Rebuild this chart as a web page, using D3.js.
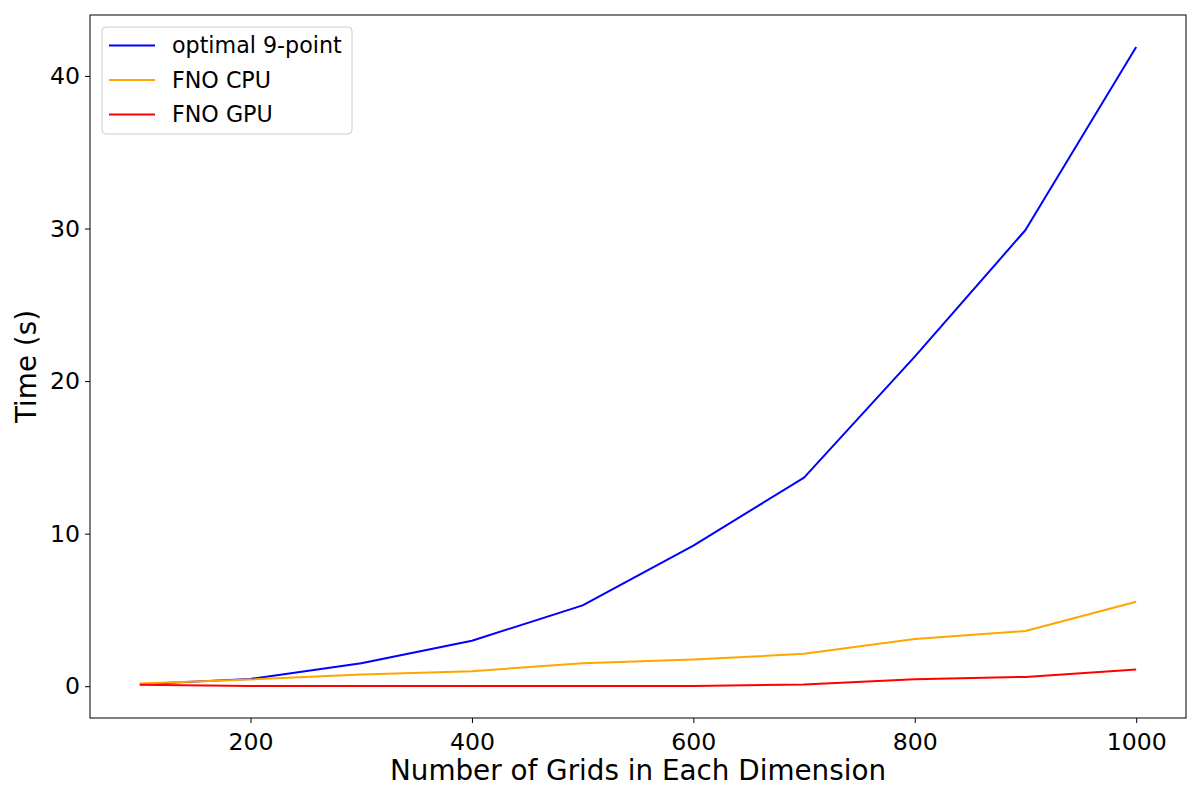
<!DOCTYPE html>
<html><head><meta charset="utf-8">
<script src="https://cdn.jsdelivr.net/npm/d3@7"></script>
<style>body{margin:0;background:#fff}svg{display:block}text{font-family:"DejaVu Sans",sans-serif;fill:#000}</style>
</head><body><svg id="c" width="1200" height="800"></svg>
<script>
const grids = [100,200,300,400,500,600,700,800,900,1000];
const optimal9 = [0.13,0.48,1.5,2.98,5.3,9.22,13.67,21.6,29.9,41.9];
const fnoCPU = [0.18,0.44,0.77,0.98,1.51,1.75,2.12,3.09,3.62,5.53];
const fnoGPU = [0.1,0.01,0.01,0.01,0.02,0.02,0.11,0.46,0.61,1.1];
const seriesNames = ["optimal 9-point","FNO CPU","FNO GPU"];
const seriesColors = ["#0000ff","#ffa500","#ff0000"];
const xTicks = [200,400,600,800,1000];
const yTicks = [0,10,20,30,40];

const svg = d3.select("#c");
const L=90,R=1186,T=15,B=718;
const allY = optimal9.concat(fnoCPU,fnoGPU);
const ymin=d3.min(allY), ymax=d3.max(allY), ypad=(ymax-ymin)*0.05;
const x = d3.scaleLinear().domain([55,1045]).range([L,R]);
const y = d3.scaleLinear().domain([ymin-ypad, ymax+ypad]).range([B,T]);

const xa = svg.append("g").attr("transform",`translate(0,${B})`)
  .call(d3.axisBottom(x).tickValues(xTicks).tickSize(5).tickPadding(5).tickFormat(d3.format("d")));
const ya = svg.append("g").attr("transform",`translate(${L},0)`)
  .call(d3.axisLeft(y).tickValues(yTicks).tickSize(5).tickPadding(5).tickFormat(d3.format("d")));
[xa,ya].forEach(a=>{a.select(".domain").remove();a.selectAll("line").attr("stroke","#000").attr("stroke-width",1);
  a.selectAll("text").attr("font-size","23.6px").attr("font-family","DejaVu Sans").attr("fill","#000");});
xa.selectAll("text").attr("dy","0.95em");

const data=[optimal9,fnoCPU,fnoGPU];
const line=d3.line().x((d,i)=>x(grids[i])).y(d=>y(d));
const g=svg.append("g");
data.forEach((s,k)=>g.append("path").datum(s).attr("d",line).attr("fill","none")
  .attr("stroke",seriesColors[k]).attr("stroke-width",2).attr("stroke-linejoin","round"));

svg.append("rect").attr("x",L).attr("y",T).attr("width",R-L).attr("height",B-T)
  .attr("fill","none").attr("stroke","#000").attr("stroke-width",1);

svg.append("text").attr("x",(L+R)/2).attr("y",780).attr("text-anchor","middle")
  .attr("font-size","27.8px").text("Number of Grids in Each Dimension");
svg.append("text").attr("transform",`translate(36,${(T+B)/2}) rotate(-90)`).attr("text-anchor","middle")
  .attr("font-size","27.8px").text("Time (s)");

const lg=svg.append("g");
lg.append("rect").attr("x",102).attr("y",27).attr("width",250).attr("height",107).attr("rx",4)
  .attr("fill","#fff").attr("fill-opacity",0.8).attr("stroke","#cccccc").attr("stroke-width",1);
seriesNames.forEach((n,k)=>{
  const yy=45.5+k*34.5;
  lg.append("line").attr("x1",109).attr("x2",155).attr("y1",yy).attr("y2",yy).attr("stroke",seriesColors[k]).attr("stroke-width",2);
  lg.append("text").attr("x",172).attr("y",yy).attr("dy","0.35em").attr("font-size","22.2px").text(n);
});
</script></body></html>
